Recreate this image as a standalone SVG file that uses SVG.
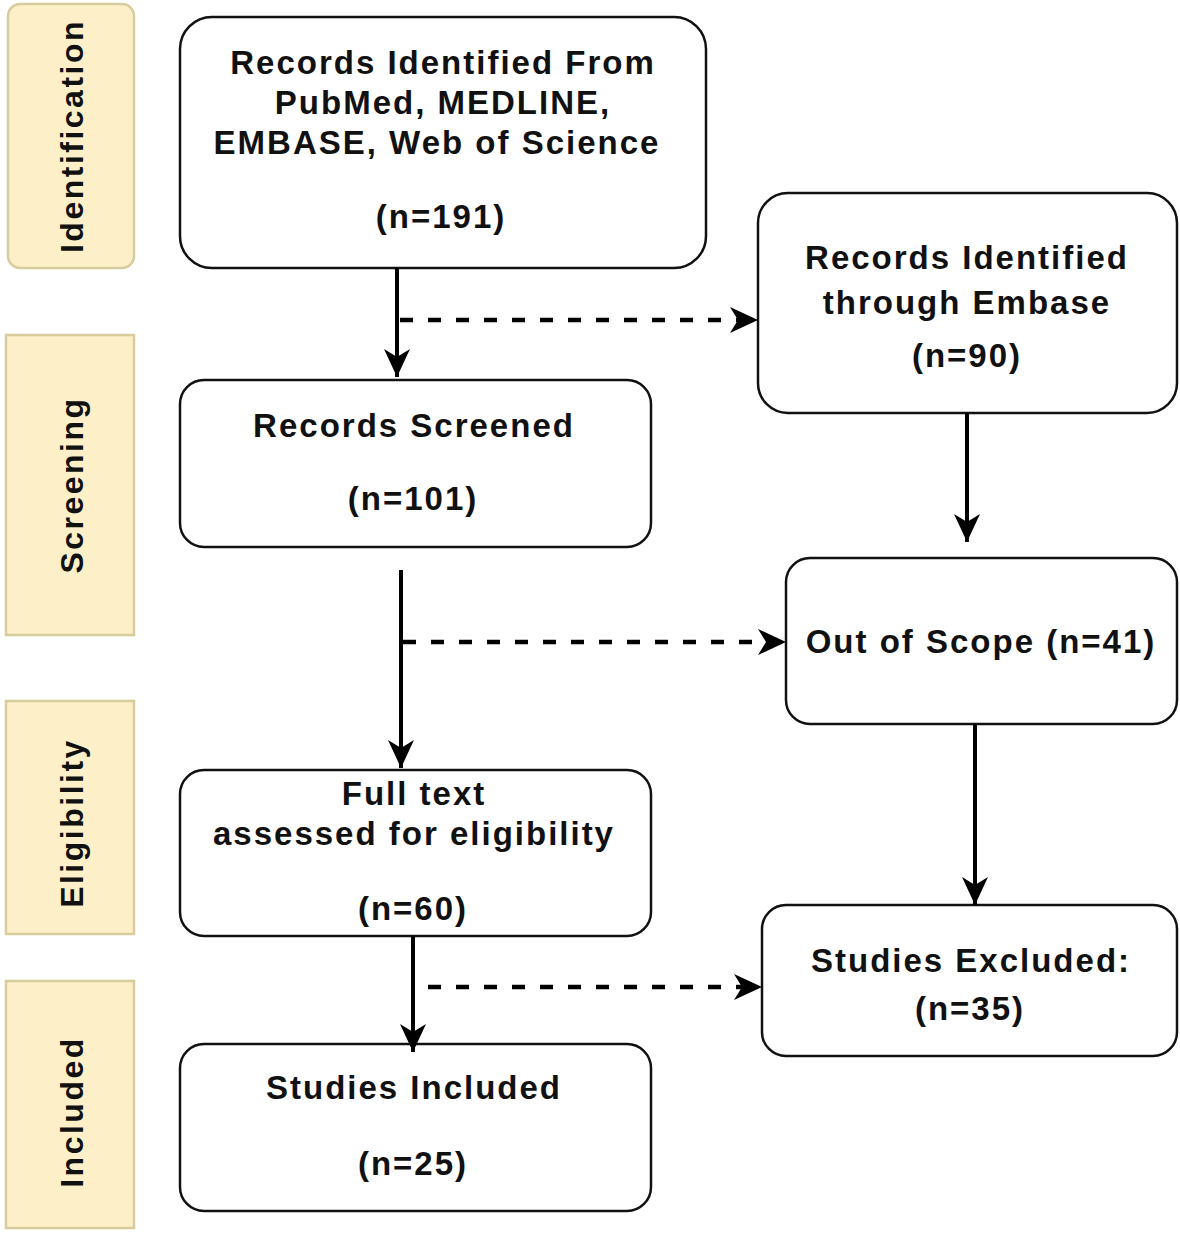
<svg xmlns="http://www.w3.org/2000/svg" width="1180" height="1234" viewBox="0 0 1180 1234">
<style>
.stage{fill:#fdf0c8;stroke:#d8cc9c;stroke-width:2.5}
.stxt{font-family:"Liberation Sans",Arial,sans-serif;font-weight:bold;font-size:32px;fill:#111;text-anchor:middle;letter-spacing:2.5px}
.box{fill:#fff;stroke:#111;stroke-width:2.5}
.t{font-family:"Liberation Sans",Arial,sans-serif;font-weight:bold;font-size:33px;fill:#111;text-anchor:middle;letter-spacing:2px}
.solid{stroke:#000;stroke-width:4;fill:none}
.dash{stroke:#000;stroke-width:4.5;fill:none;stroke-dasharray:13 15}
</style>
<defs>
<marker id="ah" markerWidth="30" markerHeight="28" refX="28" refY="14" orient="auto" markerUnits="userSpaceOnUse">
<path d="M0,1 L28,14 L0,27 L8,14 Z" fill="#000"/>
</marker>
</defs>
<rect width="1180" height="1234" fill="#fff"/>
<g id="stage-identification"><rect class="stage" x="8" y="4" width="126" height="264" rx="12"/><text class="stxt" transform="translate(83,136) rotate(-90)">Identification</text></g>
<g id="stage-screening"><rect class="stage" x="6" y="335" width="128" height="300"/><text class="stxt" transform="translate(83,485) rotate(-90)">Screening</text></g>
<g id="stage-eligibility"><rect class="stage" x="6" y="701" width="128" height="233"/><text class="stxt" transform="translate(83,823) rotate(-90)">Eligibility</text></g>
<g id="stage-included"><rect class="stage" x="6" y="981" width="128" height="247"/><text class="stxt" transform="translate(83,1112) rotate(-90)">Included</text></g>

<g id="n-records"><rect class="box" x="180" y="17" width="526" height="251" rx="32"/>
<text class="t" x="443" y="74">Records Identified From</text>
<text class="t" x="443" y="114">PubMed, MEDLINE,</text>
<text class="t" x="437" y="154">EMBASE, Web of Science</text>
<text class="t" x="441" y="228">(n=191)</text></g>
<g id="n-embase"><rect class="box" x="758" y="193" width="419" height="220" rx="30"/>
<text class="t" x="967" y="269">Records Identified</text>
<text class="t" x="967" y="314">through Embase</text>
<text class="t" x="967" y="367">(n=90)</text></g>
<g id="n-screened"><rect class="box" x="180" y="380" width="471" height="167" rx="24"/>
<text class="t" x="414" y="437">Records Screened</text>
<text class="t" x="413" y="510">(n=101)</text></g>
<g id="n-scope"><rect class="box" x="786" y="558" width="391" height="166" rx="24"/>
<text class="t" x="981" y="653">Out of Scope (n=41)</text></g>
<g id="n-fulltext"><rect class="box" x="180" y="770" width="471" height="166" rx="24"/>
<text class="t" x="414" y="805">Full text</text>
<text class="t" x="414" y="845">assessed for eligibility</text>
<text class="t" x="413" y="920">(n=60)</text></g>
<g id="n-excluded"><rect class="box" x="762" y="905" width="415" height="151" rx="24"/>
<text class="t" x="971" y="972">Studies Excluded:</text>
<text class="t" x="970" y="1020">(n=35)</text></g>
<g id="n-included"><rect class="box" x="180" y="1044" width="471" height="167" rx="24"/>
<text class="t" x="414" y="1099">Studies Included</text>
<text class="t" x="413" y="1175">(n=25)</text></g>

<g id="connectors">
<path class="solid" d="M397,268 V377" marker-end="url(#ah)"/>
<path class="dash" d="M400,320 H758" marker-end="url(#ah)"/>
<path class="solid" d="M401,570 V768" marker-end="url(#ah)"/>
<path class="dash" d="M403,642 H786" marker-end="url(#ah)"/>
<path class="solid" d="M413,936 V1052" marker-end="url(#ah)"/>
<path class="dash" d="M428,987 H762" marker-end="url(#ah)"/>
<path class="solid" d="M967,413 V542" marker-end="url(#ah)"/>
<path class="solid" d="M975,724 V905" marker-end="url(#ah)"/>
</g>
</svg>
